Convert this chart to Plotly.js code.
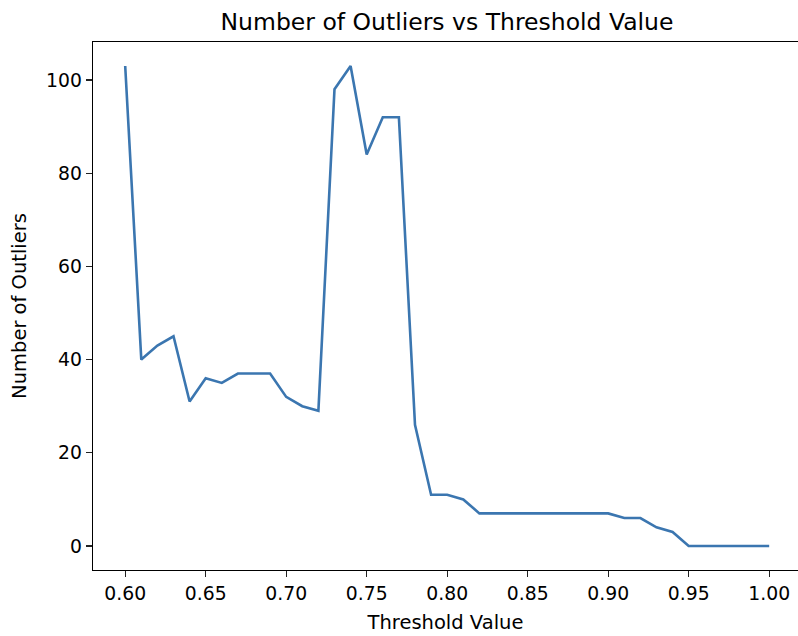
<!DOCTYPE html>
<html>
<head>
<meta charset="utf-8">
<script src="https://cdn.plot.ly/plotly-3.0.1.min.js"></script>
<style>
html, body { margin: 0; padding: 0; overflow: hidden; background: #fff; }
#chart { width: 798px; height: 636px; }
</style>
</head>
<body>
<div id="chart"></div>
<script>
const thresholds = [0.60, 0.61, 0.62, 0.63, 0.64, 0.65, 0.66, 0.67, 0.68, 0.69,
                    0.70, 0.71, 0.72, 0.73, 0.74, 0.75, 0.76, 0.77, 0.78, 0.79,
                    0.80, 0.81, 0.82, 0.83, 0.84, 0.85, 0.86, 0.87, 0.88, 0.89,
                    0.90, 0.91, 0.92, 0.93, 0.94, 0.95, 0.96, 0.97, 0.98, 0.99, 1.00];
const outliers = [103, 40, 43, 45, 31, 36, 35, 37, 37, 37,
                  32, 30, 29, 98, 103, 84, 92, 92, 26, 11,
                  11, 10, 7, 7, 7, 7, 7, 7, 7, 7,
                  7, 6, 6, 4, 3, 0, 0, 0, 0, 0, 0];
const xTickVals = [0.60, 0.65, 0.70, 0.75, 0.80, 0.85, 0.90, 0.95, 1.00];
const yTickVals = [0, 20, 40, 60, 80, 100];
const chartTitle = "Number of Outliers vs Threshold Value";
const xLabel = "Threshold Value";
const yLabel = "Number of Outliers";

const font = "DejaVu Sans, sans-serif";

const trace = {
  x: thresholds,
  y: outliers,
  type: "scatter",
  mode: "lines",
  line: { color: "#3b76b0", width: 2.6 },
  hoverinfo: "skip"
};

const axisCommon = {
  showgrid: false,
  zeroline: false,
  showline: true,
  linecolor: "#000",
  linewidth: 1.3,
  ticks: "outside",
  ticklen: 6,
  tickwidth: 1.3,
  tickcolor: "#222",
  tickfont: { family: font, size: 18.8, color: "#000" }
};

const layout = {
  width: 798,
  height: 636,
  margin: { l: 93, r: 0, t: 42, b: 66, pad: 0 },
  paper_bgcolor: "#fff",
  plot_bgcolor: "#fff",
  showlegend: false,
  title: {
    text: chartTitle,
    font: { family: font, size: 23.5, color: "#000" },
    x: (447 - 93) / 705, xref: "paper", xanchor: "center",
    y: 1 - 22 / 636, yref: "container", yanchor: "middle"
  },
  xaxis: Object.assign({}, axisCommon, {
    mirror: true,
    range: [0.58, 1.0179],
    tickvals: xTickVals,
    tickformat: ".2f",
    title: { text: xLabel, font: { family: font, size: 19.5, color: "#000" }, standoff: 12 }
  }),
  yaxis: Object.assign({}, axisCommon, {
    mirror: false,
    range: [-5.15, 108.15],
    tickvals: yTickVals,
    title: { text: yLabel, font: { family: font, size: 19.5, color: "#000" }, standoff: 14 }
  })
};

Plotly.newPlot("chart", [trace], layout, { staticPlot: true, displayModeBar: false });
</script>
</body>
</html>
